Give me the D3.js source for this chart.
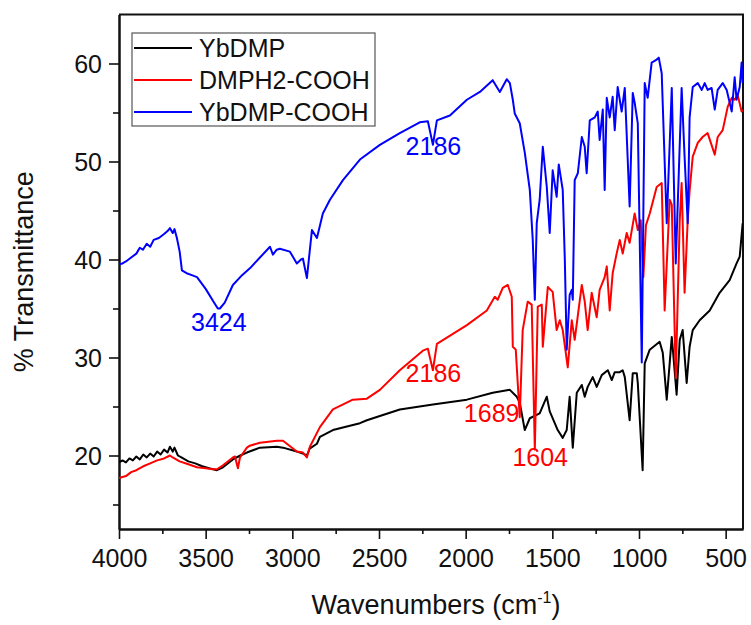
<!DOCTYPE html>
<html>
<head>
<meta charset="utf-8">
<script src="https://cdn.jsdelivr.net/npm/d3@7"></script>
<style>
	body { margin: 0; background: #fff; }
	text { font-family: "Liberation Sans", Arial, sans-serif; }
</style>
</head>
<body>
<div id="chart"></div>
<script>

/* Nombres de las series (leyenda) */
var seriesNames = ["YbDMP", "DMPH2-COOH", "YbDMP-COOH"];
var seriesColors = ["#000000", "#ff0000", "#0000ff"];

/* Ticks */
var xMajorTicks = [4000, 3500, 3000, 2500, 2000, 1500, 1000, 500];
var xMinorTicks = [3750, 3250, 2750, 2250, 1750, 1250, 750];
var yMajorTicks = [20, 30, 40, 50, 60];
var yMinorTicks = [15, 25, 35, 45, 55];

/* [numero de onda, % transmitancia] */
var ybdmp = [
	[4000, 19.3], [3980, 19.5], [3960, 19.3], [3940, 19.7], [3920, 19.5], [3900, 19.9],
	[3880, 19.6], [3860, 20.1], [3840, 19.8], [3820, 20.2], [3800, 19.9], [3780, 20.4],
	[3760, 20.1], [3740, 20.6], [3720, 20.3], [3706, 20.9], [3690, 20.4], [3680, 20.8],
	[3660, 20.0], [3640, 19.8], [3600, 19.4], [3560, 19.2], [3520, 18.9], [3480, 18.7],
	[3435, 18.5], [3400, 18.8], [3343, 19.6], [3300, 20.0], [3262, 20.3], [3187, 20.8],
	[3089, 20.9], [3054, 20.8], [2974, 20.4], [2939, 20.2], [2916, 20.0], [2900, 20.7],
	[2858, 21.2], [2841, 21.9], [2766, 22.6], [2610, 23.3], [2570, 23.6], [2380, 24.7],
	[2189, 25.2], [1993, 25.7], [1844, 26.4], [1745, 26.7], [1705, 26.0], [1688, 25.4],
	[1659, 22.6], [1630, 23.8], [1573, 24.3], [1532, 26.0], [1515, 24.5], [1486, 23.3],
	[1469, 22.6], [1440, 21.8], [1417, 22.6], [1400, 26.0], [1382, 20.8], [1359, 26.4],
	[1330, 27.2], [1313, 26.0], [1296, 27.0], [1267, 28.0], [1244, 27.0], [1215, 28.2],
	[1180, 28.7], [1157, 27.7], [1140, 28.5], [1111, 28.5], [1094, 28.7], [1082, 28.0],
	[1054, 23.6], [1036, 28.4], [1013, 28.4], [1007, 27.4], [979, 18.5], [967, 29.4],
	[938, 30.8], [881, 31.6], [863, 30.5], [840, 25.7], [823, 29.4], [811, 32.1],
	[806, 31.1], [783, 26.2], [765, 31.8], [748, 32.8], [725, 27.4], [708, 31.1],
	[690, 32.8], [650, 33.8], [592, 34.8], [535, 36.6], [477, 37.9], [437, 39.6],
	[419, 40.3], [402, 43.7]
];

var dmph2cooh = [
	[4000, 17.7], [3980, 17.8], [3960, 17.9], [3930, 18.3], [3900, 18.5], [3860, 18.9],
	[3820, 19.2], [3780, 19.5], [3740, 19.7], [3706, 20.0], [3690, 19.8], [3650, 19.4],
	[3600, 19.1], [3550, 18.8], [3500, 18.7], [3458, 18.6], [3435, 18.6], [3400, 19.0],
	[3343, 19.8], [3331, 19.9], [3314, 18.7], [3302, 19.8], [3262, 20.8], [3245, 21.0],
	[3187, 21.3], [3089, 21.5], [3054, 21.5], [2974, 20.4], [2939, 20.3], [2916, 19.8],
	[2899, 20.9], [2881, 21.5], [2841, 22.9], [2766, 24.7], [2651, 25.7], [2570, 25.8],
	[2495, 26.7], [2380, 28.7], [2247, 30.7], [2218, 30.9], [2189, 28.7], [2166, 31.4],
	[1993, 33.3], [1878, 34.8], [1832, 36.2], [1815, 35.9], [1786, 37.1], [1757, 37.4],
	[1734, 36.2], [1728, 31.1], [1711, 30.8], [1688, 23.9], [1671, 32.8], [1642, 35.7],
	[1619, 35.4], [1601, 20.6], [1584, 35.2], [1561, 35.4], [1555, 31.1], [1526, 37.2],
	[1498, 36.7], [1475, 32.8], [1457, 33.8], [1440, 32.8], [1411, 29.0], [1388, 33.8],
	[1371, 31.8], [1330, 37.4], [1313, 35.7], [1296, 32.8], [1273, 36.6], [1244, 34.1],
	[1227, 36.9], [1198, 38.2], [1186, 39.3], [1169, 34.8], [1152, 38.6], [1129, 40.6],
	[1111, 42.0], [1094, 40.6], [1071, 42.7], [1054, 41.7], [1025, 44.7], [1007, 43.0],
	[990, 44.0], [975, 38.2], [960, 43.5], [938, 44.7], [898, 47.4], [869, 47.8],
	[852, 34.8], [823, 46.1], [811, 45.6], [788, 27.9], [765, 44.0], [754, 47.8],
	[737, 36.6], [719, 44.0], [708, 47.0], [690, 50.5], [661, 51.9], [633, 52.5],
	[604, 52.9], [563, 50.7], [546, 52.5], [517, 53.2], [488, 55.6], [465, 56.5],
	[448, 56.3], [431, 56.8], [408, 55.1], [402, 55.3]
];

var ybdmpcooh = [
	[4000, 39.5], [3980, 39.6], [3960, 39.8], [3930, 40.2], [3900, 40.6], [3880, 41.2],
	[3862, 41.0], [3840, 41.6], [3820, 41.3], [3800, 42.0], [3770, 42.2], [3740, 42.6],
	[3720, 42.9], [3706, 43.2], [3690, 42.7], [3680, 43.1], [3666, 42.2], [3650, 40.8],
	[3637, 38.9], [3610, 38.6], [3580, 38.4], [3550, 38.2], [3500, 37.0], [3458, 35.8],
	[3430, 35.0], [3418, 35.0], [3390, 35.6], [3343, 37.4], [3290, 38.4], [3245, 39.1],
	[3187, 40.2], [3129, 41.3], [3112, 40.5], [3090, 41.0], [3072, 41.1], [3014, 40.8],
	[2974, 39.6], [2950, 40.0], [2939, 40.1], [2916, 38.1], [2887, 43.0], [2858, 42.2],
	[2824, 44.7], [2783, 46.1], [2708, 48.1], [2610, 50.2], [2495, 51.7], [2380, 52.9],
	[2265, 54.0], [2218, 54.1], [2189, 51.7], [2166, 54.2], [2091, 54.7], [1993, 56.3],
	[1918, 57.1], [1844, 58.3], [1803, 57.1], [1763, 58.4], [1745, 58.0], [1728, 56.3],
	[1717, 54.9], [1688, 53.9], [1659, 50.9], [1630, 47.1], [1613, 42.0], [1601, 35.9],
	[1590, 43.7], [1573, 46.1], [1555, 51.5], [1532, 47.4], [1515, 42.7], [1498, 49.1],
	[1475, 46.4], [1463, 49.7], [1440, 47.1], [1428, 40.0], [1417, 30.8], [1400, 36.4],
	[1388, 36.9], [1382, 35.9], [1371, 48.1], [1353, 48.8], [1330, 52.5], [1313, 51.5],
	[1302, 48.8], [1284, 54.2], [1255, 54.5], [1238, 55.1], [1227, 52.2], [1209, 55.3],
	[1198, 47.1], [1186, 56.5], [1169, 54.5], [1152, 56.6], [1140, 53.2], [1123, 57.6],
	[1100, 55.1], [1082, 57.5], [1054, 45.4], [1036, 57.0], [1025, 56.0], [1007, 53.9],
	[984, 29.5], [967, 58.0], [950, 56.5], [927, 60.1], [898, 60.4], [886, 60.6],
	[869, 59.0], [840, 43.7], [811, 57.5], [788, 39.6], [754, 57.5], [737, 50.5],
	[719, 43.7], [708, 54.5], [690, 57.6], [661, 58.0], [638, 57.3], [621, 58.0],
	[604, 57.3], [581, 57.5], [563, 55.3], [546, 57.3], [517, 58.0], [494, 57.3],
	[465, 55.1], [448, 58.6], [437, 56.3], [419, 57.6], [408, 60.1], [402, 58.0]
];

/* Anotaciones de picos */
var peakLabels = [
	{ text: "3424", wn: 3424, t: 32.7, color: "#0000ff" },
	{ text: "2186", wn: 2186, t: 50.7, color: "#0000ff" },
	{ text: "2186", wn: 2186, t: 27.5, color: "#ff0000" },
	{ text: "1689", wn: 1850, t: 23.4, color: "#ff0000" },
	{ text: "1604", wn: 1570, t: 18.9, color: "#ff0000" }
];

var width = 751;
var height = 625;
var margin = { top: 14.5, right: 8, bottom: 96, left: 119 };

var svg = d3.select("#chart")
	.append("svg")
	.attr("width", width)
	.attr("height", height);

var x = d3.scaleLinear()
	.domain([4000, 400])
	.range([margin.left, width - margin.right]);

var y = d3.scaleLinear()
	.domain([12.5, 65])
	.range([height - margin.bottom, margin.top]);

var axisColor = "#111";

/* Ejes */
var xAxis = svg.append("g")
	.attr("transform", "translate(0," + y(12.5) + ")")
	.call(d3.axisBottom(x).tickValues(xMajorTicks).tickSize(10).tickSizeOuter(0).tickFormat(d3.format("d")));

svg.append("g")
	.attr("transform", "translate(0," + y(12.5) + ")")
	.call(d3.axisBottom(x).tickValues(xMinorTicks).tickSize(5).tickSizeOuter(0).tickFormat(""));

var yAxis = svg.append("g")
	.attr("transform", "translate(" + x(4000) + ",0)")
	.call(d3.axisLeft(y).tickValues(yMajorTicks).tickSize(10).tickSizeOuter(0));

svg.append("g")
	.attr("transform", "translate(" + x(4000) + ",0)")
	.call(d3.axisLeft(y).tickValues(yMinorTicks).tickSize(6).tickSizeOuter(0).tickFormat(""));

svg.selectAll(".domain").attr("stroke", axisColor).attr("stroke-width", 2);
svg.selectAll(".tick line").attr("stroke", axisColor).attr("stroke-width", 1.6);

xAxis.selectAll("text")
	.attr("font-size", 25)
	.attr("fill", "#111")
	.attr("dy", null)
	.attr("y", 38);

yAxis.selectAll("text")
	.attr("font-size", 25)
	.attr("fill", "#111")
	.attr("x", -17)
	.attr("dy", "0.36em");

/* Marco superior y derecho */
svg.append("path")
	.attr("d", "M" + x(4000) + "," + y(65) + "H" + x(400) + "V" + y(12.5))
	.attr("fill", "none")
	.attr("stroke", axisColor)
	.attr("stroke-width", 2);

/* Titulos de los ejes */
svg.append("text")
	.attr("transform", "translate(33," + ((y(12.5) + y(65)) / 2) + ") rotate(-90)")
	.attr("text-anchor", "middle")
	.attr("font-size", 27)
	.attr("fill", "#111")
	.text("% Transmittance");

var xTitle = svg.append("text")
	.attr("x", (x(4000) + x(400)) / 2 + 5)
	.attr("y", 614)
	.attr("text-anchor", "middle")
	.attr("font-size", 27)
	.attr("fill", "#111");
xTitle.append("tspan").text("Wavenumbers (cm");
xTitle.append("tspan").attr("font-size", 16).attr("dy", -11).text("-1");
xTitle.append("tspan").attr("dy", 11).text(")");

/* Series */
var clipId = "plotclip";
svg.append("clipPath").attr("id", clipId)
	.append("rect")
	.attr("x", x(4000)).attr("y", y(65))
	.attr("width", x(400) - x(4000)).attr("height", y(12.5) - y(65));

var line = d3.line()
	.x(function (d) { return x(d[0]); })
	.y(function (d) { return y(d[1]); });

var allSeries = [ybdmp, dmph2cooh, ybdmpcooh];

svg.append("g")
	.attr("clip-path", "url(#" + clipId + ")")
	.selectAll("path")
	.data(allSeries)
	.enter()
	.append("path")
	.attr("d", line)
	.attr("fill", "none")
	.attr("stroke", function (d, i) { return seriesColors[i]; })
	.attr("stroke-width", 2)
	.attr("stroke-linejoin", "round");

/* Etiquetas de picos */
svg.selectAll(".peak")
	.data(peakLabels)
	.enter()
	.append("text")
	.attr("class", "peak")
	.attr("x", function (d) { return x(d.wn); })
	.attr("y", function (d) { return y(d.t); })
	.attr("text-anchor", "middle")
	.attr("font-size", 25)
	.attr("fill", function (d) { return d.color; })
	.text(function (d) { return d.text; });

/* Leyenda */
var legend = svg.append("g").attr("transform", "translate(132,33)");

legend.append("rect")
	.attr("width", 243)
	.attr("height", 93)
	.attr("fill", "#fff")
	.attr("stroke", "#555")
	.attr("stroke-width", 1.2);

var item = legend.selectAll(".item")
	.data(seriesNames)
	.enter()
	.append("g")
	.attr("class", "item")
	.attr("transform", function (d, i) { return "translate(0," + (15 + i * 32) + ")"; });

item.append("line")
	.attr("x1", 2).attr("x2", 60)
	.attr("stroke", function (d, i) { return seriesColors[i]; })
	.attr("stroke-width", 2);

item.append("text")
	.attr("x", 67)
	.attr("dy", "0.36em")
	.attr("font-size", 25)
	.attr("fill", "#111")
	.text(function (d) { return d; });

</script>
</body>
</html>
